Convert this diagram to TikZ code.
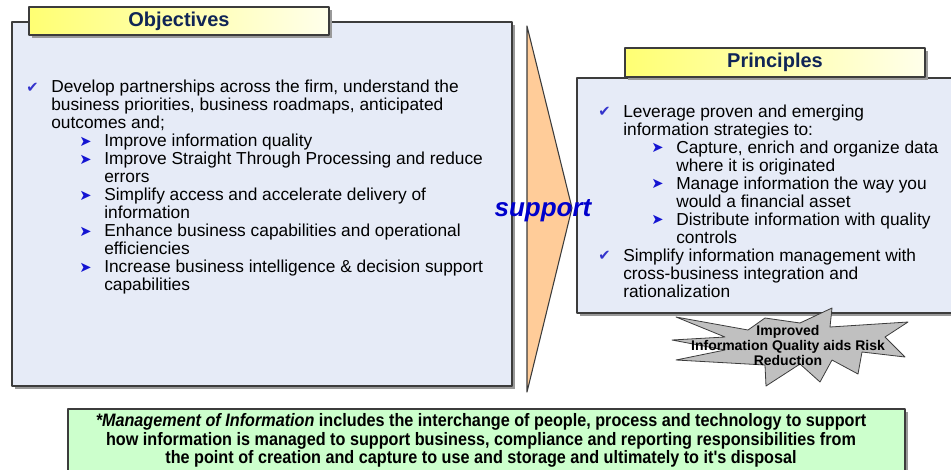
\documentclass[tikz,border=0pt]{standalone}
\usepackage{fontspec}
\setmainfont{Liberation Sans}
\newfontfamily\symfont{DejaVu Sans}
\newfontfamily\narrowfont[FakeStretch=0.9]{Liberation Sans}
\usetikzlibrary{shadows}
\definecolor{boxfill}{RGB}{230,235,247}
\definecolor{edgegray}{RGB}{60,60,60}
\definecolor{titlenavy}{RGB}{16,37,86}
\definecolor{trifill}{RGB}{255,204,153}
\definecolor{suppblue}{RGB}{0,0,204}
\definecolor{chkblue}{RGB}{51,51,204}
\definecolor{arwblue}{RGB}{20,20,210}
\definecolor{burstgray}{RGB}{192,192,192}
\definecolor{notegreen}{RGB}{204,255,204}
\newcommand{\chk}{\makebox[18.75pt][l]{\raisebox{0.5pt}{\symfont\fontsize{11}{11}\selectfont\color{chkblue}✔}}}
\newcommand{\arw}{\hspace*{39.75pt}\makebox[18.75pt][l]{\raisebox{0.3pt}{\symfont\fontsize{11}{11}\selectfont\color{arwblue}➤}}}
\newcommand{\ina}{\hspace*{18.75pt}}
\newcommand{\inb}{\hspace*{58.5pt}}
\begin{document}
\begin{tikzpicture}[x=0.75pt,y=-0.75pt,line join=round,
    shade box/.style={draw=edgegray,line width=0.8pt,drop shadow={shadow xshift=2.25pt,shadow yshift=-2.25pt,fill=gray!80,opacity=1}},
    bodybox/.style={shade box,fill=boxfill},
    titlebox/.style={shade box,left color=yellow!55,right color=yellow!8,font=\bfseries\fontsize{15}{15}\selectfont,text=titlenavy},
    listtext/.style={anchor=north west,inner sep=0pt,align=left,font=\fontsize{13}{13.5}\selectfont},
    notebox/.style={shade box,fill=notegreen}]
\useasboundingbox (0,0) rectangle (951,469);
% left column
\node[bodybox,minimum width=375pt,minimum height=273pt] (objbody) at (262,204) {};
\node[titlebox,minimum width=225pt,minimum height=21pt] (objtitle) at (179,21) {\raisebox{-2.5pt}{Objectives}};
\node[listtext] (objlist) at (26,80) {\chk Develop partnerships across the firm, understand the\\
\ina business priorities, business roadmaps, anticipated\\
\ina outcomes and;\\
\arw Improve information quality\\
\arw Improve Straight Through Processing and reduce\\
\inb errors\\
\arw Simplify access and accelerate delivery of\\
\inb information\\
\arw Enhance business capabilities and operational\\
\inb efficiencies\\
\arw Increase business intelligence \& decision support\\
\inb capabilities};
% arrow
\coordinate (tritop) at (527,26);
\coordinate (tritip) at (572,208);
\coordinate (tribot) at (527,392);
\draw[draw=edgegray,line width=0.8pt,fill=trifill] (tritop) -- (tritip) -- (tribot) -- cycle;
% right column
\node[bodybox,minimum width=287.25pt,minimum height=176.25pt] (prnbody) at (768.5,195.5) {};
\node[titlebox,minimum width=225pt,minimum height=21.75pt] (prntitle) at (775,62.5) {\raisebox{-2.5pt}{Principles}};
\node[listtext] (prnlist) at (598,104.5) {\chk Leverage proven and emerging\\
\ina information strategies to:\\
\arw Capture, enrich and organize data\\
\inb where it is originated\\
\arw Manage information the way you\\
\inb would a financial asset\\
\arw Distribute information with quality\\
\inb controls\\
\chk Simplify information management with\\
\ina cross-business integration and\\
\ina rationalization};
\node[font=\bfseries\itshape\fontsize{19.5}{19.5}\selectfont,text=suppblue] (supp) at (543,211) {support};
% burst
\draw[draw=edgegray,line width=0.6pt,fill=burstgray] (832,308) -- (830,327) -- (908,322) -- (885,337) -- (905,357)
  -- (862,352) -- (858,374) -- (832,360) -- (820,382) -- (800,364) -- (766,386) -- (765,365) -- (676,360)
  -- (725,350) -- (672,340) -- (725,337) -- (676,317) -- (748,330) -- (765,318) -- (800,323) -- cycle;
\node[align=center,font=\bfseries\fontsize{10.5}{11.25}\selectfont] (risk) at (788,345) {Improved\\Information Quality aids Risk\\Reduction};
% footnote
\node[notebox,minimum width=627.75pt,minimum height=49.5pt] (note) at (486.5,442) {};
\node[align=center,font=\narrowfont\bfseries\fontsize{13.5}{12.4}\selectfont] (notetext) at (481,440.5) {\textit{*Management of Information} includes the interchange of people, process and technology to support\\
how information is managed to support business, compliance and reporting responsibilities from\\
the point of creation and capture to use and storage and ultimately to it's disposal};
\end{tikzpicture}
\end{document}
